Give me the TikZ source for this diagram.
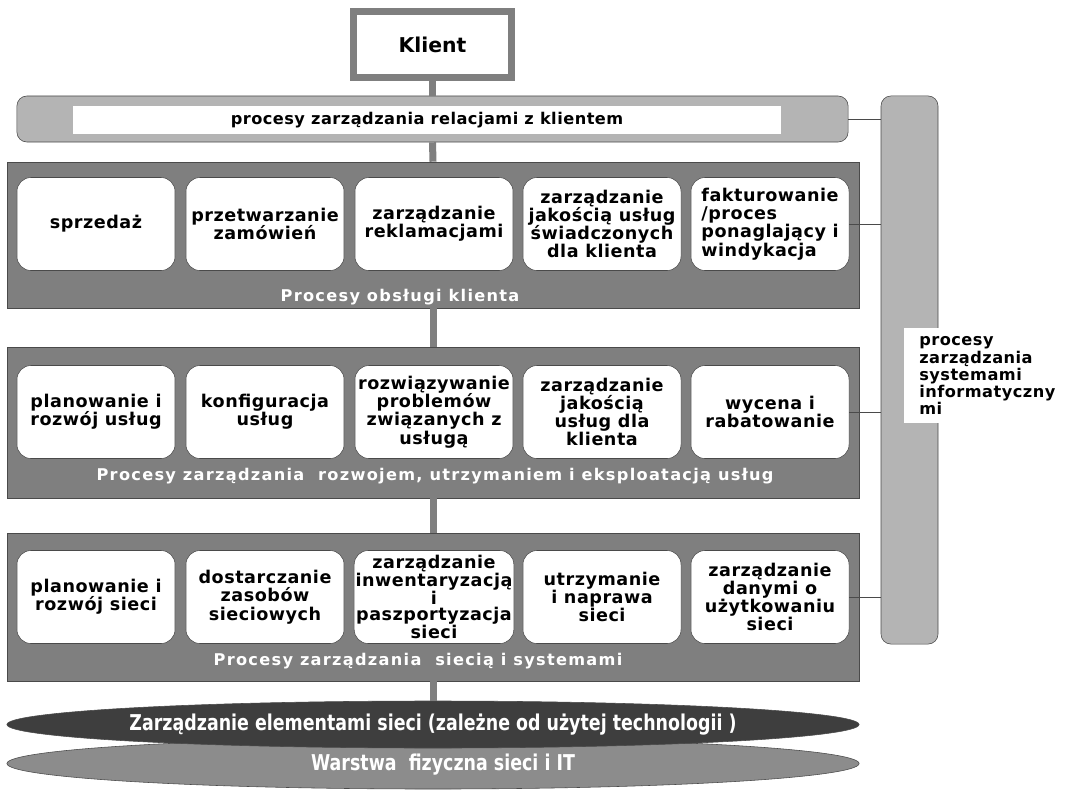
\documentclass[tikz,border=0pt]{standalone}
\usepackage{fontspec}
\setmainfont{DejaVu Sans}
\newfontfamily\vfont{DejaVu Sans}[LetterSpace=3]
\newfontfamily\tfont{DejaVu Sans}[LetterSpace=8]
\newfontfamily\nfont{DejaVu Sans}[FakeStretch=0.8]
\usetikzlibrary{shapes.geometric}
\definecolor{panelgray}{HTML}{7F7F7F}
\definecolor{bargray}{HTML}{B4B4B4}
\definecolor{edgegray}{HTML}{4A4A4A}
\definecolor{darkell}{HTML}{3E3E3E}
\definecolor{lightell}{HTML}{8C8C8C}

\tikzset{
  proc/.style={draw=edgegray, fill=white, rounded corners=0.35cm, minimum width=3.95cm,
    minimum height=2.325cm, align=center, inner sep=1pt,
    font=\vfont\bfseries\fontsize{12.5}{13}\selectfont},
  panel/.style={draw=edgegray, fill=panelgray, minimum width=21.3cm, inner sep=0pt},
  ptitle/.style={text=white, font=\tfont\bfseries\fontsize{11.5}{13}\selectfont},
  trunk/.style={draw=panelgray, line width=0.175cm},
  link/.style={draw=edgegray, line width=0.6pt},
  layer/.style={ellipse, draw=edgegray, minimum width=21.3cm, inner sep=0pt},
  ltext/.style={text=white, font=\nfont\bfseries\fontsize{15.5}{17}\selectfont}
}

\begin{document}
\begin{tikzpicture}[x=0.025cm, y=-0.025cm]
  \useasboundingbox (0,0) rectangle (1069,790);

  % klient and top bar
  \node[draw=panelgray, line width=0.175cm, fill=white, minimum width=3.95cm, minimum height=1.65cm,
    font=\bfseries\fontsize{14.5}{16}\selectfont] (klient) at (432.5,44.5) {Klient};
  \node[draw=edgegray, fill=bargray, rounded corners=0.25cm, minimum width=20.775cm,
    minimum height=1.15cm] (crm) at (432.5,119) {};
  \node[fill=white, minimum width=17.7cm, minimum height=0.7cm, inner sep=0pt,
    font=\vfont\bfseries\fontsize{11.5}{13}\selectfont] (crm-t) at (427,120)
    {procesy zarządzania relacjami z klientem};

  % right bar
  \node[draw=edgegray, fill=bargray, rounded corners=0.25cm, minimum width=1.425cm,
    minimum height=13.7cm] (itbar) at (909.5,370) {};
  \node[fill=white, anchor=north west, text width=3.6cm, inner xsep=0.375cm, align=left,
    minimum height=2.375cm, font=\vfont\bfseries\fontsize{11.5}{12.3}\selectfont] (itbar-t) at (904,328)
    {procesy\\zarządzania\\systemami\\informatyczny\\mi};

  % panel 1
  \node[panel, minimum height=3.65cm] (obsluga) at (433,235) {};
  \node[proc] (sprz) at (96,224) {sprzedaż};
  \node[proc] (zam) at (265,224) {przetwarzanie\\zamówień};
  \node[proc] (rekl) at (434,224) {zarządzanie\\reklamacjami};
  \node[proc] (jak) at (602,224) {zarządzanie\\jakością usług\\świadczonych\\dla klienta};
  \node[proc, align=left] (fakt) at (770,224) {fakturowanie\\/proces\\ponaglający i\\windykacja};
  \node[ptitle] (obsluga-t) at (400,297) {Procesy obsługi klienta};

  % panel 2
  \node[panel, minimum height=3.775cm] (rozwoj) at (433,422.5) {};
  \node[proc] (plan) at (96,412) {planowanie i\\rozwój usług};
  \node[proc] (konf) at (265,412) {konfiguracja\\usług};
  \node[proc] (probl) at (434,412) {rozwiązywanie\\problemów\\związanych z\\usługą};
  \node[proc] (jakk) at (602,412) {zarządzanie\\jakością\\usług dla\\klienta};
  \node[proc] (wyc) at (770,412) {wycena i\\rabatowanie};
  \node[ptitle] (rozwoj-t) at (435,476) {Procesy zarządzania \ rozwojem, utrzymaniem i eksploatacją usług};

  % panel 3
  \node[panel, minimum height=3.7cm] (siec) at (433,607) {};
  \node[proc] (plans) at (96,597) {planowanie i\\rozwój sieci};
  \node[proc] (dost) at (265,597) {dostarczanie\\zasobów\\sieciowych};
  \node[proc, font=\vfont\bfseries\fontsize{12.5}{11}\selectfont] (inw) at (434,597)
    {zarządzanie\\inwentaryzacją\\i\\paszportyzacja\\sieci};
  \node[proc] (napr) at (602,597) {utrzymanie\\i naprawa\\sieci};
  \node[proc] (dane) at (770,597) {zarządzanie\\danymi o\\użytkowaniu\\sieci};
  \node[ptitle] (siec-t) at (418,661) {Procesy zarządzania \ siecią i systemami};

  % layers
  \node[layer, fill=lightell, minimum height=1.275cm] (fiz) at (433,763.5) {};
  \node[layer, fill=darkell, minimum height=1.175cm] (elem) at (433,724.5) {};
  \node[ltext] (elem-t) at (elem) {Zarządzanie elementami sieci (zależne od użytej technologii )};
  \node[ltext] (fiz-t) at (443,765) {Warstwa \ fizyczna sieci i IT};

  % trunk
  \draw[trunk] (klient.south) -- (crm.north);
  \draw[trunk] (crm.south) -- (obsluga.north);
  \draw[trunk] (obsluga.south) -- (rozwoj.north);
  \draw[trunk] (rozwoj.south) -- (siec.north);
  \draw[trunk] (siec.south) -- (elem.north);

  % links to the right bar
  \draw[link] (crm.east) -- (crm.east -| itbar.west);
  \draw[link] (fakt.east) -- (fakt.east -| itbar.west);
  \draw[link] (wyc.east) -- (wyc.east -| itbar.west);
  \draw[link] (dane.east) -- (dane.east -| itbar.west);
\end{tikzpicture}
\end{document}
